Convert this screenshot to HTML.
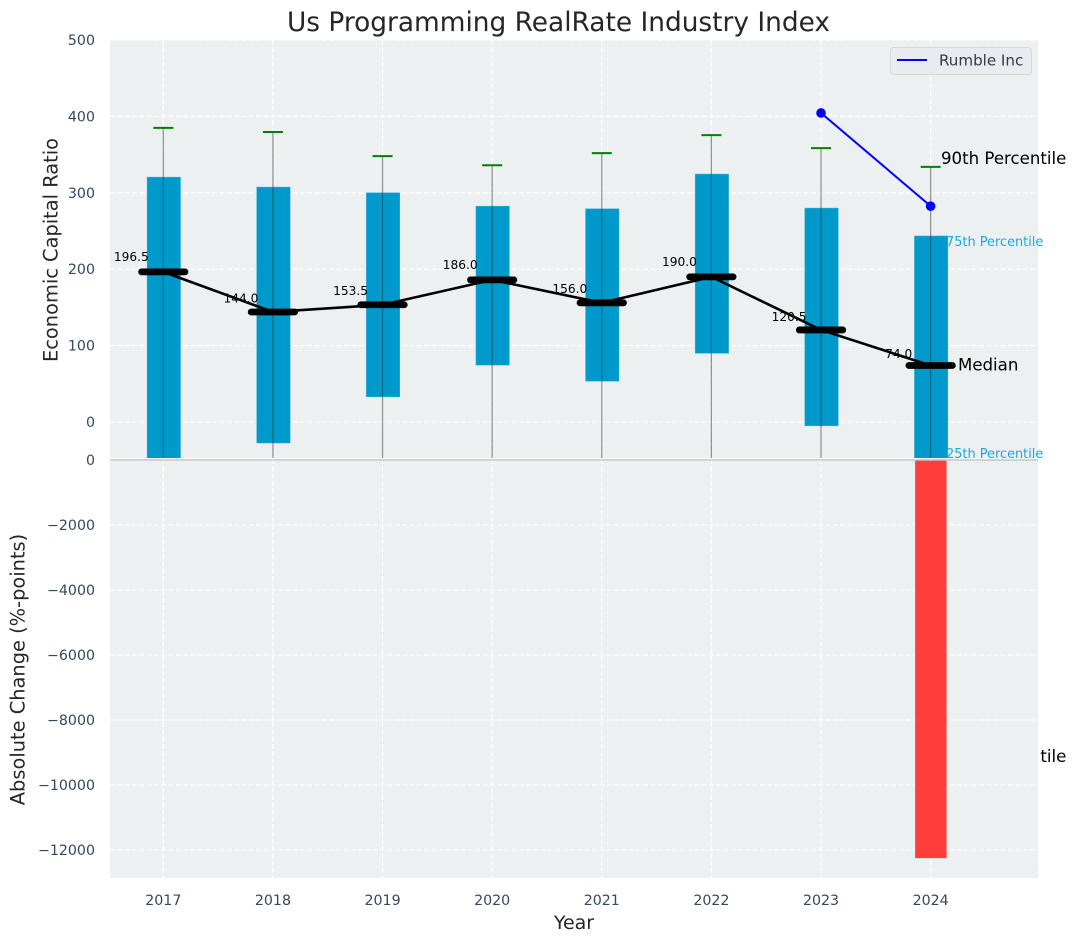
<!DOCTYPE html>
<html>
<head>
<meta charset="utf-8">
<title>Us Programming RealRate Industry Index</title>
<style>
html,body{margin:0;padding:0;background:#fff;width:1076px;height:942px;overflow:hidden}
svg{display:block;font-family:"DejaVu Sans","Liberation Sans",sans-serif}
</style>
</head>
<body>
<svg id="chart" width="1076" height="942" viewBox="0 0 1076 942" xmlns="http://www.w3.org/2000/svg">
<defs>
<clipPath id="upper-clip"><rect x="110" y="40" width="928" height="418"></rect></clipPath>
<clipPath id="lower-clip"><rect x="110" y="459" width="928" height="419"></rect></clipPath>
<clipPath id="outside-clip"><rect x="1040" y="459" width="36" height="419"></rect></clipPath>
</defs>
<text x="941" y="762" font-size="16.6" fill="#000" clip-path="url(#outside-clip)">10th Percentile</text>
<rect x="110" y="40" width="928" height="418" fill="#ecf0f1"></rect>
<rect x="110" y="459" width="928" height="419" fill="#ecf0f1"></rect>
<g id="grid"></g>
<g id="upper" clip-path="url(#upper-clip)"></g>
<g id="lower" clip-path="url(#lower-clip)"></g>
<rect x="110" y="459.3" width="928" height="1.4" fill="#c4c6c8"></rect>
<g id="ticks"></g>
<g id="over"></g>
<text x="558.5" y="31" font-size="26.4" fill="#262626" text-anchor="middle">Us Programming RealRate Industry Index</text>
<text x="574" y="929" font-size="19" fill="#262626" text-anchor="middle">Year</text>
<text transform="translate(57.5,250) rotate(-90)" font-size="19.4" fill="#262626" text-anchor="middle">Economic Capital Ratio</text>
<text transform="translate(24.5,669.5) rotate(-90)" font-size="19.4" fill="#262626" text-anchor="middle">Absolute Change (%-points)</text>
<g>
<rect x="890.5" y="47.5" width="141" height="27" rx="3" fill="#e9ebf0" stroke="#d6d9dc" stroke-width="1"></rect>
<line x1="897" y1="60" x2="927" y2="60" stroke="#0000ff" stroke-width="2"></line>
<text x="939" y="65.5" font-size="15.1" fill="#333a44">Rumble Inc</text>
</g>
</svg>
<script>
const years = [2017, 2018, 2019, 2020, 2021, 2022, 2023, 2024];
const p90 = [385, 379.5, 348, 336, 352, 375.5, 358.5, 334];
const p75 = [320.5, 307.5, 300, 282.5, 279, 324.5, 280, 243.5];
const medians = [196.5, 144.0, 153.5, 186.0, 156.0, 190.0, 120.5, 74.0];
const p25 = [-60, -27.5, 33, 74.5, 53.5, 90, -5, -60];
const p10 = [-200, -180, -120, -90, -100, -70, -150, -200];
const rumble = [null, null, null, null, null, null, 404.5, 282.5];
const change = [null, null, null, null, null, null, null, -12250];
const upperTicks = [0, 100, 200, 300, 400, 500];
const lowerTicks = [0, -2000, -4000, -6000, -8000, -10000, -12000];

const NS = 'http://www.w3.org/2000/svg';
function xAt(i) { return 163.3 + 109.62 * i; }
function yUp(v) { return 422 - 0.764 * v; }
function yLow(v) { return 460 + 0.0325 * -v; }
function make(parent, tag, props, label) {
  const el = document.createElementNS(NS, tag);
  for (const k in props) el.setAttribute(k, props[k]);
  if (label !== undefined) el.textContent = label;
  parent.appendChild(el);
  return el;
}
const grid = document.getElementById('grid');
const upper = document.getElementById('upper');
const lower = document.getElementById('lower');
const ticks = document.getElementById('ticks');
const over = document.getElementById('over');
const dash = { stroke: '#fff', 'stroke-width': 1.1, 'stroke-dasharray': '5.3 2' };
const tickColor = '#34495e';

years.forEach(function (yr, i) {
  const x = xAt(i);
  const g1 = make(grid, 'line', Object.assign({ x1: x, x2: x, y1: 40, y2: 458 }, dash));
  
  
  const g2 = make(grid, 'line', Object.assign({ x1: x, x2: x, y1: 459, y2: 878 }, dash));
  
  
  const t = make(ticks, 'text', { x: x, y: 905, 'font-size': 14.2, fill: tickColor, 'text-anchor': 'middle' }, String(yr));
  
  
});
upperTicks.forEach(function (v) {
  const y = yUp(v);
  const g = make(grid, 'line', Object.assign({ x1: 110, x2: 1038, y1: y, y2: y }, dash));
  
  
  const t = make(ticks, 'text', { x: 95, y: y + 5, 'font-size': 14.2, fill: tickColor, 'text-anchor': 'end' }, String(v));
  
  
});
lowerTicks.forEach(function (v) {
  const y = yLow(v);
  const g = make(grid, 'line', Object.assign({ x1: 110, x2: 1038, y1: y, y2: y }, dash));
  
  
  const label = v < 0 ? '\u2212' + String(-v) : String(v);
  const t = make(ticks, 'text', { x: 95, y: y + 5, 'font-size': 14.2, fill: tickColor, 'text-anchor': 'end' }, label);
  
  
});

years.forEach(function (yr, i) {
  const x = xAt(i);
  const top = yUp(p75[i]);
  const box = make(upper, 'rect', { x: x - 16.2, y: top, width: 33.4, height: yUp(p25[i]) - top, fill: '#0099cc', stroke: '#33adD6', 'stroke-width': 0.5 });
  
  
});
years.forEach(function (yr, i) {
  const label = make(upper, 'text', { x: xAt(i) - 32, y: yUp(medians[i]) - 5.4 - 0.0287 * medians[i], 'font-size': 12.2, fill: '#000', 'text-anchor': 'middle' }, medians[i].toFixed(1));
  
  
});
years.forEach(function (yr, i) {
  const x = xAt(i);
  const w = make(upper, 'line', { x1: x, x2: x, y1: yUp(p90[i]), y2: yUp(p10[i]), stroke: '#2f3b40', 'stroke-width': 1.2, opacity: 0.55 });
  
  
  const c = make(upper, 'line', { x1: x - 10, x2: x + 10, y1: yUp(p90[i]), y2: yUp(p90[i]), stroke: '#008000', 'stroke-width': 2 });
  
  
});
const medianLine = make(upper, 'polyline', { points: medians.map(function (v, i) { return xAt(i) + ',' + yUp(v); }).join(' '), fill: 'none', stroke: '#000', 'stroke-width': 2.6 });


years.forEach(function (yr, i) {
  const x = xAt(i);
  const y = yUp(medians[i]);
  const m = make(upper, 'line', { x1: x - 21.7, x2: x + 21.7, y1: y, y2: y, stroke: '#000', 'stroke-width': 6.8, 'stroke-linecap': 'round' });
  
  
});
const rumblePts = [];
rumble.forEach(function (v, i) {
  if (v !== null) rumblePts.push([xAt(i), yUp(v)]);
});
const rl = make(upper, 'polyline', { points: rumblePts.map(function (p) { return p.join(','); }).join(' '), fill: 'none', stroke: '#0000ff', 'stroke-width': 2 });


rumblePts.forEach(function (p) {
  const d = make(upper, 'circle', { cx: p[0], cy: p[1], r: 4.8, fill: '#0000ff' });
  
  
});
change.forEach(function (v, i) {
  if (v === null) return;
  const b = make(lower, 'rect', { x: xAt(i) - 15.5, y: yLow(0), width: 31.4, height: yLow(v) - yLow(0), fill: '#ff3d3d' });
  
  
});
const a1 = make(over, 'text', { x: 941, y: 164, 'font-size': 16.6, fill: '#000' }, '90th Percentile');


const a2 = make(over, 'text', { x: 958, y: 370.5, 'font-size': 16.6, fill: '#000' }, 'Median');


const a3 = make(over, 'text', { x: 946, y: 246, 'font-size': 12.9, fill: '#1fa8d6' }, '75th Percentile');


const a4 = make(over, 'text', { x: 946, y: 458, 'font-size': 12.9, fill: '#1fa8d6' }, '25th Percentile');


</script>
</body>
</html>
